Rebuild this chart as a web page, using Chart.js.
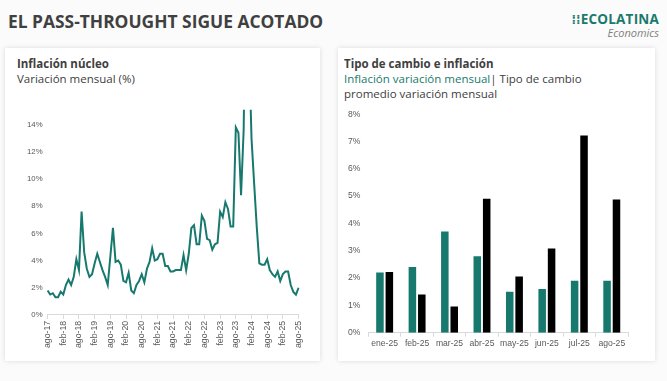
<!DOCTYPE html>
<html>
<head>
<meta charset="utf-8">
<script src="https://cdn.jsdelivr.net/npm/chart.js@4.4.1/dist/chart.umd.min.js"></script>
<style>
  body { margin: 0; width: 667px; height: 381px; background: #fbfbfb; font-family: "Open Sans", sans-serif; position: relative; overflow: hidden; }
  .titulo { position: absolute; left: 8px; top: 9px; font-size: 17.4px; font-weight: bold; color: #404040; }
  .logo { position: absolute; right: 8px; top: 10px; text-align: right; }
  .logo .marca { font-size: 13.5px; font-weight: bold; color: #1a7a6e; letter-spacing: 0.2px; }
  .logo .sub { font-size: 11px; font-style: italic; color: #7f7f7f; margin-top: -3px; }
  .card { position: absolute; top: 48px; height: 313px; background: #fff; box-shadow: 0 0 5px rgba(0,0,0,0.13); }
  .card h3 { margin: 0; font-size: 11.5px; font-weight: bold; color: #404040; }
  .card .sub { font-size: 11.5px; color: #404040; line-height: 15px; }
  .card .cab { position: absolute; left: 12px; top: 8px; }
  .card canvas { position: absolute; }
  .verde { color: #1a7a6e; }
</style>
</head>
<body>
<div class="titulo">EL PASS-THROUGHT SIGUE ACOTADO</div>
<div class="logo">
  <div class="marca">&#8286;&#8286;ECOLATINA</div>
  <div class="sub">Economics</div>
</div>

<div class="card" style="left:5px; width:315px;">
  <div class="cab">
    <h3>Inflación núcleo</h3>
    <div class="sub">Variación mensual (%)</div>
  </div>
  <canvas id="grafico-linea" width="300" height="250" style="left:6px; top:52px; width:300px; height:250px;"></canvas>
</div>

<div class="card" style="left:338px; width:317px;">
  <div class="cab" style="left:6px;">
    <h3>Tipo de cambio e inflación</h3>
    <div class="sub"><span class="verde">Inflación variación mensual</span>| Tipo de cambio<br>promedio variación mensual</div>
  </div>
  <canvas id="grafico-barras" width="305" height="250" style="left:0px; top:53px; width:305px; height:250px;"></canvas>
</div>

<script>
// Inflación núcleo mensual, ago-17 a ago-25
var meses = ['ene', 'feb', 'mar', 'abr', 'may', 'jun', 'jul', 'ago', 'sep', 'oct', 'nov', 'dic'];
var nucleo = [
  1.8, 1.5, 1.6, 1.3, 1.3, 1.7, 1.5, 2.2, 2.6, 2.2, 2.8, 4.1, 3.3, 7.6, 4.6, 3.4,
  2.8, 3.0, 3.8, 4.5, 3.9, 3.3, 2.8, 2.2, 4.3, 6.4, 3.9, 4.0, 3.7, 2.5, 2.4, 3.1,
  1.8, 1.6, 2.2, 2.5, 3.0, 2.4, 3.4, 3.9, 4.9, 4.0, 4.1, 4.5, 4.5, 3.6, 3.6, 3.2,
  3.2, 3.3, 3.3, 3.3, 4.4, 3.3, 4.5, 6.4, 6.6, 5.2, 5.2, 7.3, 6.9, 5.6, 5.5, 4.8,
  5.2, 5.3, 7.6, 7.2, 8.3, 7.8, 6.5, 6.5, 13.8, 13.4, 8.8, 13.6, 28.3, 20.2, 13.0, 9.7,
  6.5, 3.8, 3.7, 3.7, 4.1, 3.3, 3.0, 2.8, 3.2, 2.5, 3.0, 3.2, 3.2, 2.2, 1.7, 1.5, 2.0
];
var etiquetasLinea = [];
for (var i = 0; i < nucleo.length; i++) {
  var m = (7 + i) % 12;
  var a = 17 + Math.floor((7 + i) / 12);
  etiquetasLinea.push(meses[m] + '-' + a);
}

// Tipo de cambio e inflación 2025
var categorias = ['ene-25', 'feb-25', 'mar-25', 'abr-25', 'may-25', 'jun-25', 'jul-25', 'ago-25'];
var inflacion = [2.2, 2.4, 3.7, 2.8, 1.5, 1.6, 1.9, 1.9];
var tipoCambio = [2.22, 1.4, 0.96, 4.9, 2.06, 3.08, 7.22, 4.88];

var verde = '#17796d';
var gris = '#595959';
var familia = '"Liberation Sans", Arial, sans-serif';

new Chart(document.getElementById('grafico-linea'), {
  type: 'line',
  data: {
    labels: etiquetasLinea,
    datasets: [{
      data: nucleo,
      borderColor: verde,
      borderWidth: 2,
      pointRadius: 0,
      tension: 0
    }]
  },
  options: {
    responsive: false,
    animation: false,
    layout: { padding: { left: 11, right: 6, top: 8, bottom: 0 } },
    plugins: { legend: { display: false }, tooltip: { enabled: false } },
    scales: {
      x: {
        grid: { display: true, drawOnChartArea: false, drawTicks: true, tickLength: 4, color: '#d9d9d9' },
        border: { display: true, color: '#d9d9d9' },
        ticks: {
          autoSkip: false,
          maxRotation: 90,
          minRotation: 90,
          color: gris,
          font: { family: familia, size: 8.7 },
          padding: 2,
          callback: function (value, index) {
            return index % 6 === 0 ? etiquetasLinea[index] : null;
          }
        }
      },
      y: {
        min: 0,
        max: 15.1,
        grid: { display: false, drawTicks: false },
        border: { display: false },
        ticks: {
          stepSize: 2,
          includeBounds: false,
          color: gris,
          font: { family: familia, size: 7.8 },
          padding: 5,
          callback: function (value) { return value + '%'; }
        }
      }
    }
  }
});

new Chart(document.getElementById('grafico-barras'), {
  type: 'bar',
  data: {
    labels: categorias,
    datasets: [{
      label: 'Inflación variación mensual',
      data: inflacion,
      backgroundColor: verde,
      barPercentage: 0.8,
      categoryPercentage: 0.58
    }, {
      label: 'Tipo de cambio promedio variación mensual',
      data: tipoCambio,
      backgroundColor: '#000000',
      barPercentage: 0.8,
      categoryPercentage: 0.58
    }]
  },
  options: {
    responsive: false,
    animation: false,
    layout: { padding: { left: 2, right: 15, top: 4, bottom: 0 } },
    plugins: { legend: { display: false }, tooltip: { enabled: false } },
    scales: {
      x: {
        grid: { display: true, drawOnChartArea: false, drawTicks: true, tickLength: 4, color: '#d9d9d9' },
        border: { display: true, color: '#d9d9d9' },
        ticks: { autoSkip: false, color: gris, font: { family: familia, size: 8.6 }, maxRotation: 0, padding: 2 }
      },
      y: {
        min: 0,
        max: 8,
        grid: { display: false, drawTicks: false },
        border: { display: false },
        ticks: {
          stepSize: 1,
          color: gris,
          font: { family: familia, size: 8.6 },
          padding: 8,
          callback: function (value) { return value + '%'; }
        }
      }
    }
  }
});
</script>
</body>
</html>
